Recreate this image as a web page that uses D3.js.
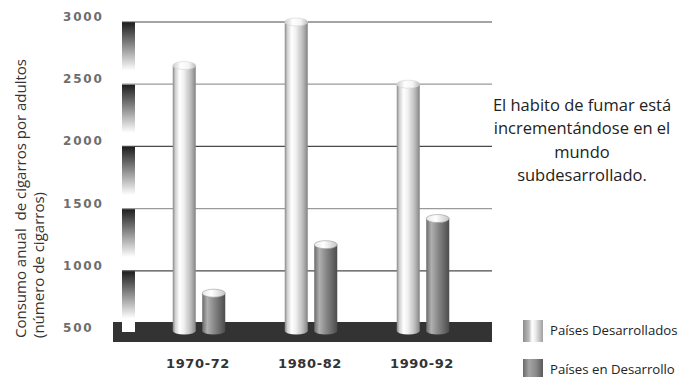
<!DOCTYPE html>
<html>
<head>
<meta charset="utf-8">
<script src="https://cdn.jsdelivr.net/npm/d3@7"></script>
<style>
  html, body { margin: 0; padding: 0; background: #fff; }
  svg { display: block; }
</style>
</head>
<body>
<svg id="chart" width="683" height="377"></svg>
<script>
// Consumo anual de cigarros por adulto
const periods = ["1970-72", "1980-82", "1990-92"];
const seriesNames = ["Países Desarrollados", "Países en Desarrollo"];
const developed = [2650, 3000, 2500];
const developing = [820, 1210, 1420];
const yTicks = [500, 1000, 1500, 2000, 2500, 3000];
const note = ["El habito de fumar está", "incrementándose en el", "mundo", "subdesarrollado."];
const yTitle = ["Consumo anual  de cigarros por adultos", "(número de cigarros)"];

const rows = periods.map((p, i) => ({ period: p, values: [developed[i], developing[i]] }));

const svg = d3.select("#chart");
const defs = svg.append("defs");

function hGrad(id, stops) {
  const g = defs.append("linearGradient").attr("id", id)
    .attr("x1", "0%").attr("x2", "100%").attr("y1", "0%").attr("y2", "0%");
  stops.forEach(([o, c]) => g.append("stop").attr("offset", o).attr("stop-color", c));
}
function vGrad(id, stops) {
  const g = defs.append("linearGradient").attr("id", id)
    .attr("x1", "0%").attr("x2", "0%").attr("y1", "0%").attr("y2", "100%");
  stops.forEach(([o, c]) => g.append("stop").attr("offset", o).attr("stop-color", c));
}
hGrad("body0", [["0%", "#888888"], ["12%", "#d2d2d2"], ["30%", "#ffffff"], ["48%", "#f0f0f0"], ["78%", "#bcbcbc"], ["100%", "#838383"]]);
hGrad("body1", [["0%", "#6a6a6a"], ["22%", "#b0b0b0"], ["50%", "#8a8a8a"], ["100%", "#4c4c4c"]]);
hGrad("top0", [["0%", "#cccccc"], ["35%", "#ffffff"], ["70%", "#f4f4f4"], ["100%", "#bbbbbb"]]);
hGrad("top1", [["0%", "#e8e8e8"], ["40%", "#ffffff"], ["100%", "#c6c6c6"]]);
vGrad("strip", [["0%", "#1c1c1c"], ["78%", "#ffffff"], ["100%", "#ffffff"]]);
hGrad("leg0", [["0%", "#8c8c8c"], ["30%", "#bcbcbc"], ["45%", "#ffffff"], ["60%", "#f0f0f0"], ["100%", "#a0a0a0"]]);
hGrad("leg1", [["0%", "#6a6a6a"], ["30%", "#a4a4a4"], ["65%", "#8a8a8a"], ["100%", "#5a5a5a"]]);

// scales
const y = d3.scaleLinear().domain([500, 3000]).range([333, 22]);
const x0 = d3.scaleBand().domain(periods).range([143, 479]);
const x1 = d3.scaleBand().domain(seriesNames).range([-26.25, 26.25]).paddingInner(0.22);

const gridLeft = 122, gridRight = 492;
const floorTop = 322, floorBottom = 342, floorLeft = 113;
const barBase = 331;

// floor
svg.append("rect")
  .attr("x", floorLeft).attr("y", floorTop)
  .attr("width", gridRight - floorLeft).attr("height", floorBottom - floorTop)
  .attr("fill", "#333");

// shaded strip along the value axis
const stripSegs = yTicks.slice(1).reverse().map((t, i, arr) => ({
  top: y(t),
  bottom: i === arr.length - 1 ? 332 : y(arr[i + 1])
}));
svg.append("g").selectAll("rect").data(stripSegs).join("rect")
  .attr("x", gridLeft).attr("width", 13)
  .attr("y", d => d.top).attr("height", d => d.bottom - d.top)
  .attr("fill", "url(#strip)");

// gridlines
svg.append("g").selectAll("line").data(yTicks.filter(t => t > 500)).join("line")
  .attr("x1", gridLeft).attr("x2", gridRight)
  .attr("y1", d => y(d)).attr("y2", d => y(d))
  .attr("stroke", d => (d / 500) % 2 === 0 ? "#4a4a4a" : "#9a9a9a")
  .attr("stroke-width", 1.2);

// tick labels
svg.append("g").selectAll("text").data(yTicks).join("text")
  .attr("x", 63).attr("y", d => y(d) - 1)
  .attr("font-family", "'DejaVu Sans', sans-serif")
  .attr("font-weight", "bold").attr("font-size", 12)
  .attr("letter-spacing", 1.8)
  .attr("fill", "#6e6e6e")
  .text(d => d);

// cylinders
const groups = svg.append("g").selectAll("g").data(rows).join("g")
  .attr("transform", d => `translate(${x0(d.period) + x0.bandwidth() / 2},0)`);

const bars = groups.selectAll("g").data(d => d.values.map((v, i) => ({ v, i, name: seriesNames[i] })))
  .join("g");

const bw = x1.bandwidth();
bars.append("ellipse")
  .attr("cx", d => x1(d.name) + bw / 2).attr("cy", barBase)
  .attr("rx", bw / 2).attr("ry", 3.5)
  .attr("fill", d => `url(#body${d.i})`);
bars.append("rect")
  .attr("x", d => x1(d.name)).attr("width", bw)
  .attr("y", d => y(d.v)).attr("height", d => barBase - y(d.v))
  .attr("fill", d => `url(#body${d.i})`);
bars.append("ellipse")
  .attr("cx", d => x1(d.name) + bw / 2).attr("cy", d => y(d.v))
  .attr("rx", bw / 2).attr("ry", 4)
  .attr("fill", d => `url(#top${d.i})`)
  .attr("stroke", d => d.i === 0 ? "#d4d4d4" : "#9a9a9a")
  .attr("stroke-width", 0.6);

// period labels
svg.append("g").selectAll("text").data(periods).join("text")
  .attr("x", d => x0(d) + x0.bandwidth() / 2 - 1).attr("y", 368)
  .attr("text-anchor", "middle")
  .attr("font-family", "'DejaVu Sans', sans-serif")
  .attr("font-weight", "bold").attr("font-size", 13)
  .attr("letter-spacing", 0.6)
  .attr("fill", "#333")
  .text(d => d);

// value-axis title
const titleG = svg.append("g").attr("transform", "translate(0,338) rotate(-90)");
titleG.selectAll("text").data(yTitle).join("text")
  .attr("x", 0).attr("y", (d, i) => 26 + i * 18)
  .attr("font-family", "'Open Sans', sans-serif")
  .attr("font-size", 15)
  .attr("fill", "#333")
  .attr("xml:space", "preserve")
  .text(d => d);

// note
svg.append("g").selectAll("text").data(note).join("text")
  .attr("x", 582).attr("y", (d, i) => 111 + i * 23.3)
  .attr("text-anchor", "middle")
  .attr("font-family", "'Open Sans', sans-serif")
  .attr("font-size", 16.5)
  .attr("fill", "#222")
  .text(d => d);

// legend
const legend = svg.append("g").selectAll("g").data(seriesNames).join("g")
  .attr("transform", (d, i) => `translate(523,${320 + i * 39})`);
legend.append("rect")
  .attr("width", 20).attr("height", 22)
  .attr("fill", (d, i) => `url(#leg${i})`);
legend.append("text")
  .attr("x", 27).attr("y", 15)
  .attr("font-family", "'Open Sans', sans-serif")
  .attr("font-size", 13.2)
  .attr("fill", "#222")
  .text(d => d);
</script>
</body>
</html>
